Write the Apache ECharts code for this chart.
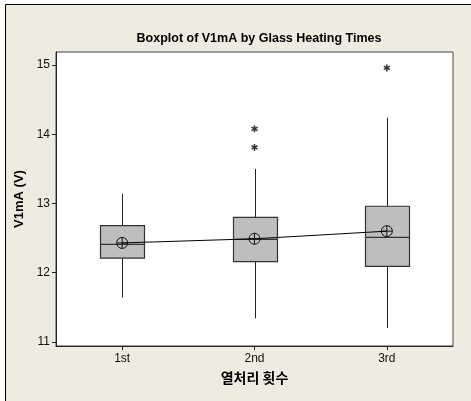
<!DOCTYPE html>
<html>
<head>
<meta charset="utf-8">
<script src="https://cdn.jsdelivr.net/npm/echarts@6/dist/echarts.min.js"></script>
<style>
  html, body { margin: 0; padding: 0; background: #fff; }
  #chart { width: 471px; height: 401px; }
</style>
</head>
<body>
<div id="chart"></div>
<script>
// 데이터
var categories = ['1st', '2nd', '3rd'];
var lowWhisker = [11.64, 11.34, 11.20];
var q1 = [12.21, 12.16, 12.09];
var median = [12.41, 12.48, 12.51];
var q3 = [12.68, 12.80, 12.96];
var highWhisker = [13.14, 13.50, 14.24];
var means = [12.43, 12.49, 12.60];
var outlierCat = [1, 1, 2];
var outlierVal = [14.08, 13.81, 14.96];
var yTicks = [11, 12, 13, 14, 15];

var FONT = 'Liberation Sans';

var boxData = categories.map(function (c, i) {
    return [i, lowWhisker[i], q1[i], median[i], q3[i], highWhisker[i]];
});
var outlierData = outlierCat.map(function (c, i) { return [c, outlierVal[i]]; });

var chart = echarts.init(document.getElementById('chart'));
chart.setOption({
    backgroundColor: '#ffffff',
    animation: false,
    graphic: [{
        type: 'rect',
        z: -100,
        silent: true,
        shape: { x: 5.5, y: 4.5, width: 500, height: 420 },
        style: { fill: '#EEEBE1', stroke: '#000', lineWidth: 1 }
    }],
    title: {
        text: 'Boxplot of V1mA by Glass Heating Times',
        left: 254,
        top: 27,
        textAlign: 'center',
        textStyle: { fontFamily: FONT, fontWeight: 'bold', fontSize: 12.5, color: '#000' }
    },
    grid: {
        left: 56, top: 52, right: 18, bottom: 55,
        show: true, backgroundColor: '#fff', borderColor: '#444', borderWidth: 1
    },
    xAxis: {
        type: 'category',
        data: categories,
        boundaryGap: true,
        name: '열처리 횟수',
        nameLocation: 'middle',
        nameGap: 25,
        nameTextStyle: { fontFamily: 'Noto Sans CJK KR', fontWeight: 'bold', fontSize: 14, color: '#000' },
        axisLine: { show: true, lineStyle: { color: '#222', width: 1 } },
        axisTick: { show: true, alignWithLabel: true, length: 4, lineStyle: { color: '#222' } },
        axisLabel: { fontFamily: FONT, fontSize: 12, color: '#111', margin: 7 },
        splitLine: { show: false }
    },
    yAxis: {
        type: 'value',
        min: 10.94,
        max: 15.19,
        name: 'V1mA (V)',
        nameLocation: 'middle',
        nameGap: 26,
        nameTextStyle: { fontFamily: FONT, fontWeight: 'bold', fontSize: 13, color: '#000' },
        axisLine: { show: true, lineStyle: { color: '#222', width: 1 } },
        axisTick: { show: true, length: 4, customValues: yTicks, lineStyle: { color: '#222' } },
        axisLabel: { fontFamily: FONT, fontSize: 12, color: '#111', margin: 6, customValues: yTicks },
        splitLine: { show: false }
    },
    series: [
        {
            type: 'custom',
            data: boxData,
            encode: { x: 0, y: [1, 2, 3, 4, 5] },
            renderItem: function (params, api) {
                var x = api.value(0);
                var lo = api.coord([x, api.value(1)]);
                var b1 = api.coord([x, api.value(2)]);
                var md = api.coord([x, api.value(3)]);
                var b3 = api.coord([x, api.value(4)]);
                var hi = api.coord([x, api.value(5)]);
                var half = 22;
                var cx = Math.round(lo[0]) + 0.5;
                var lineStyle = { stroke: '#222', lineWidth: 1 };
                return {
                    type: 'group',
                    children: [
                        { type: 'line', shape: { x1: cx, y1: lo[1], x2: cx, y2: b1[1] }, style: lineStyle },
                        { type: 'line', shape: { x1: cx, y1: b3[1], x2: cx, y2: hi[1] }, style: lineStyle },
                        {
                            type: 'rect',
                            shape: { x: cx - half, y: b3[1], width: half * 2, height: b1[1] - b3[1] },
                            style: { fill: '#BEBEBE', stroke: '#333', lineWidth: 1.2 }
                        },
                        { type: 'line', shape: { x1: cx - half, y1: md[1], x2: cx + half, y2: md[1] }, style: { stroke: '#333', lineWidth: 1.2 } }
                    ]
                };
            },
            z: 2
        },
        {
            type: 'line',
            data: means,
            symbol: 'path://M-5,0 A5,5 0 1,0 5,0 A5,5 0 1,0 -5,0 Z M-5,0 L5,0 M0,-5 L0,5',
            symbolSize: 11,
            symbolKeepAspect: true,
            lineStyle: { color: '#000', width: 1 },
            itemStyle: { color: 'rgba(0,0,0,0)', borderColor: '#111', borderWidth: 1 },
            z: 5
        },
        {
            type: 'scatter',
            data: outlierData,
            symbol: 'path://M0,-5 L0,5 M-4.33,-2.5 L4.33,2.5 M-4.33,2.5 L4.33,-2.5',
            symbolSize: 7,
            symbolKeepAspect: true,
            itemStyle: { color: 'rgba(0,0,0,0)', borderColor: '#000', borderWidth: 1.5 },
            z: 5
        }
    ]
});
</script>
</body>
</html>
